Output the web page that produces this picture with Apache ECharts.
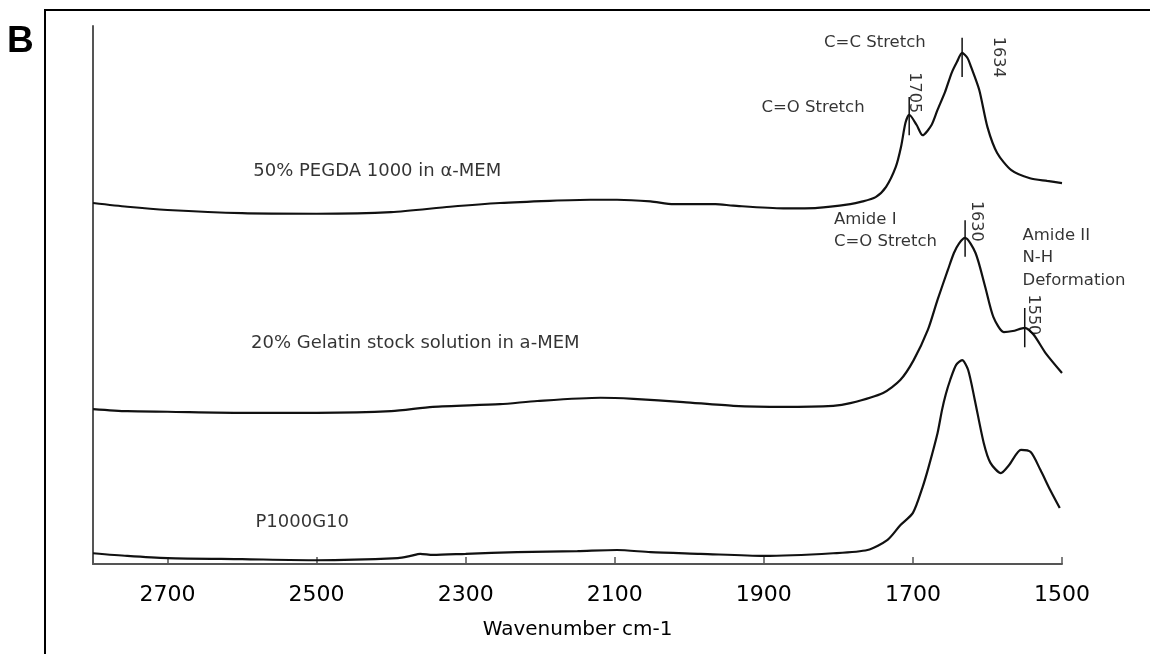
<!DOCTYPE html>
<html>
<head>
<meta charset="utf-8">
<script src="https://cdn.jsdelivr.net/npm/echarts@6/dist/echarts.min.js"></script>
<style>
  html, body { margin: 0; padding: 0; background: #fff; }
  #chart { width: 1150px; height: 654px; }
</style>
</head>
<body>
<div id="chart"></div>
<script>
// FTIR spectra (offset vertically), wavenumber in cm-1 and absorbance in arbitrary units
const tickLabels = [2700, 2500, 2300, 2100, 1900, 1700, 1500];

const pegdaWave = [2800, 2754, 2700, 2600, 2500, 2400, 2321, 2254, 2187, 2133, 2097, 2052, 2021, 1965, 1941, 1874, 1828, 1784, 1770, 1750, 1736, 1723, 1716, 1710, 1705, 1695, 1687, 1675, 1667, 1657, 1648, 1641, 1634, 1627, 1622, 1611, 1600, 1587, 1568, 1543, 1520, 1500];
const pegdaAbs  = [6.71, 6.64, 6.58, 6.52, 6.51, 6.54, 6.64, 6.71, 6.75, 6.77, 6.77, 6.74, 6.69, 6.69, 6.66, 6.61, 6.62, 6.69, 6.73, 6.82, 7.01, 7.38, 7.75, 8.20, 8.35, 8.16, 7.97, 8.16, 8.44, 8.77, 9.13, 9.33, 9.50, 9.41, 9.24, 8.81, 8.12, 7.64, 7.32, 7.17, 7.12, 7.08];

const gelatinWave = [2800, 2754, 2700, 2600, 2500, 2400, 2344, 2254, 2204, 2119, 2075, 2008, 1941, 1874, 1807, 1784, 1740, 1717, 1699, 1680, 1667, 1653, 1645, 1638, 1630, 1616, 1603, 1592, 1578, 1566, 1550, 1538, 1522, 1500];
const gelatinAbs  = [2.88, 2.84, 2.83, 2.81, 2.81, 2.84, 2.92, 2.97, 3.03, 3.09, 3.07, 3.01, 2.94, 2.92, 2.94, 2.99, 3.18, 3.42, 3.79, 4.35, 4.91, 5.47, 5.78, 5.96, 6.06, 5.78, 5.15, 4.59, 4.31, 4.33, 4.39, 4.26, 3.92, 3.55];

const blendWave = [2800, 2754, 2700, 2600, 2500, 2391, 2374, 2361, 2344, 2300, 2231, 2150, 2097, 2052, 1985, 1900, 1807, 1761, 1734, 1717, 1700, 1687, 1679, 1667, 1661, 1656, 1650, 1642, 1634, 1626, 1617, 1605, 1596, 1582, 1571, 1555, 1542, 1529, 1516, 1503];
const blendAbs  = [0.20, 0.15, 0.11, 0.09, 0.07, 0.11, 0.15, 0.19, 0.17, 0.19, 0.22, 0.24, 0.26, 0.22, 0.19, 0.15, 0.20, 0.26, 0.45, 0.72, 0.95, 1.43, 1.80, 2.43, 2.86, 3.15, 3.42, 3.70, 3.79, 3.61, 3.05, 2.25, 1.88, 1.69, 1.84, 2.12, 2.08, 1.75, 1.38, 1.04];

const sampleNames = ['50% PEGDA 1000 in \u03b1-MEM', '20% Gelatin stock solution in a-MEM', 'P1000G10'];

// Assigned peaks: a short vertical marker spanning low..high on each band
const peakWave = [1705, 1634, 1630, 1550];
const peakLow  = [7.97, 9.05, 5.71, 4.03];
const peakHigh = [8.68, 9.78, 6.39, 4.76];

// Band assignments
const bandText = ['C=C Stretch', 'C=O Stretch', 'Amide I', 'C=O Stretch', 'Amide II', 'N-H', 'Deformation'];

const zip = (xs, ys) => xs.map((x, i) => [x, ys[i]]);

const FONT = 'DejaVu Sans';
const INK = '#111';
const TEXT = '#000';

// Anchor points (data space) for the text placed on the plot
const sampleAnchors = [[2585, 7.29], [2588, 4.11], [2582, 0.78]];
const peakLabelAnchors = [[1698, 8.76], [1586, 9.42], [1614.5, 6.37], [1539, 4.63]];
const bandAnchors = [[1751, 9.68, 'center'], [1834, 8.49, 'center'], [1806, 6.39, 'left'], [1806, 5.99, 'left'],
                     [1553, 6.10, 'left'], [1553, 5.69, 'left'], [1553, 5.26, 'left']];

const textItems = [];
sampleNames.forEach((name, i) => {
  textItems.push({
    value: sampleAnchors[i],
    label: { formatter: name, align: 'left', fontSize: 18 }
  });
});
peakWave.forEach((w, i) => {
  textItems.push({
    value: peakLabelAnchors[i],
    label: { formatter: String(w), rotate: -90, align: 'center', fontSize: 16 }
  });
});
bandText.forEach((t, i) => {
  const a = bandAnchors[i];
  textItems.push({
    value: [a[0], a[1]],
    label: { formatter: t, align: a[2], fontSize: 16.5 }
  });
});

const spectrumSeries = [
  zip(pegdaWave, pegdaAbs),
  zip(gelatinWave, gelatinAbs),
  zip(blendWave, blendAbs)
].map((data, i) => ({
  name: sampleNames[i],
  type: 'line',
  data: data,
  smooth: 0.25,
  showSymbol: false,
  silent: true,
  lineStyle: { color: INK, width: 2.2 },
  z: 3
}));

const markerSeries = peakWave.map((w, i) => ({
  type: 'line',
  data: [[w, peakLow[i]], [w, peakHigh[i]]],
  showSymbol: false,
  silent: true,
  lineStyle: { color: INK, width: 1.5 },
  z: 4
}));

const chart = echarts.init(document.getElementById('chart'), null, { renderer: 'canvas' });

chart.setOption({
  animation: false,
  backgroundColor: '#fff',
  grid: { left: 93, right: 88, top: 26, bottom: 90, containLabel: false },
  xAxis: {
    type: 'value',
    inverse: true,
    min: 1500,
    max: 2800,
    name: 'Wavenumber cm-1',
    nameLocation: 'middle',
    nameGap: 56,
    nameTextStyle: { fontFamily: FONT, fontSize: 20, color: TEXT },
    axisLine: { show: true, lineStyle: { color: '#555', width: 2 } },
    axisTick: { show: true, inside: true, length: 7, customValues: tickLabels, lineStyle: { color: '#555', width: 1.5 } },
    axisLabel: {
      customValues: tickLabels,
      formatter: (v) => String(v),
      margin: 20, fontFamily: FONT, fontSize: 22, color: TEXT
    },
    splitLine: { show: false }
  },
  yAxis: {
    type: 'value',
    min: 0,
    max: 10,
    axisLine: { show: true, lineStyle: { color: '#555', width: 2 } },
    axisTick: { show: false },
    axisLabel: { show: false },
    splitLine: { show: false }
  },
  graphic: [
    {
      type: 'rect',
      shape: { x: 45, y: 10, width: 1130, height: 670 },
      style: { fill: 'none', stroke: '#000', lineWidth: 2 },
      silent: true
    },
    {
      type: 'text',
      style: {
        x: 7, y: 42, text: 'B',
        font: 'bold 37px "Liberation Sans", Arial, sans-serif',
        fill: '#000', textVerticalAlign: 'middle'
      },
      silent: true
    }
  ],
  series: [
    ...spectrumSeries,
    ...markerSeries,
    {
      type: 'scatter',
      symbolSize: 0,
      silent: true,
      data: textItems,
      label: {
        show: true,
        position: 'inside',
        verticalAlign: 'middle',
        fontFamily: FONT,
        color: TEXT
      },
      z: 5
    }
  ]
});
</script>
</body>
</html>
